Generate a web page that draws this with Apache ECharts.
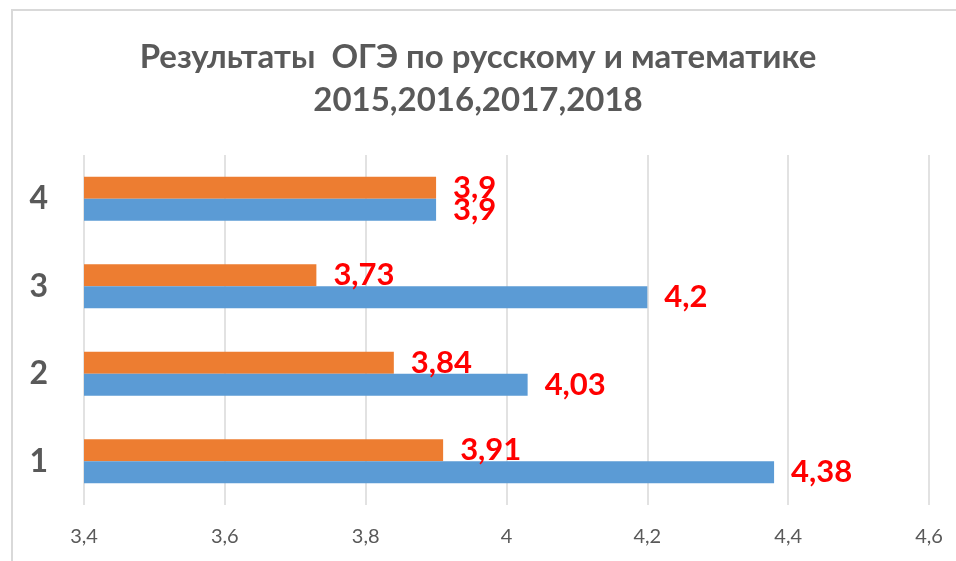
<!DOCTYPE html>
<html>
<head>
<meta charset="utf-8">
<script src="https://cdn.jsdelivr.net/npm/echarts@6/dist/echarts.min.js"></script>
<style>
html,body{margin:0;padding:0;background:#fff;}
#chart{width:956px;height:561px;}
</style>
</head>
<body>
<div id="chart"></div>
<script>
const categories = ['1', '2', '3', '4'];
const blueValues = [4.38, 4.03, 4.2, 3.9];
const orangeValues = [3.91, 3.84, 3.73, 3.9];
const xTicks = [3.4, 3.6, 3.8, 4.0, 4.2, 4.4, 4.6];
const titleLines = ['Результаты  ОГЭ по русскому и математике', '2015,2016,2017,2018'];

const fmt = v => String(+v.toFixed(2)).replace('.', ',');
const FONT = 'Lato, "Open Sans", sans-serif';

const chart = echarts.init(document.getElementById('chart'), null, {renderer: 'canvas'});
const labelStyle = {
  show: true,
  position: 'right',
  distance: 17,
  color: '#FF0000',
  fontWeight: 'bold',
  fontSize: 31,
  fontFamily: FONT,
  formatter: p => fmt(p.value)
};
chart.setOption({
  animation: false,
  backgroundColor: '#fff',
  graphic: [
    {type: 'polyline', shape: {points: [[12, 561], [12, 10], [956, 10]]},
     style: {stroke: '#d9d9d9', lineWidth: 2, fill: null}, silent: true}
  ],
  title: {
    text: titleLines.join('\n'),
    left: 'center',
    top: 31,
    textStyle: {
      fontFamily: FONT,
      fontWeight: 'bold',
      fontSize: 33,
      lineHeight: 43,
      color: '#595959'
    }
  },
  grid: {left: 84, right: 27, top: 155, bottom: 56, containLabel: false},
  xAxis: {
    type: 'value',
    min: 3.4,
    max: 4.6,
    interval: 0.2,
    axisLine: {show: false},
    axisTick: {show: false},
    splitLine: {show: true, lineStyle: {color: '#d9d9d9', width: 1.5}},
    axisLabel: {
      color: '#595959',
      fontSize: 20,
      fontFamily: FONT,
      margin: 22,
      customValues: xTicks,
      formatter: v => fmt(v)
    }
  },
  yAxis: {
    type: 'category',
    data: categories,
    axisLine: {show: false},
    axisTick: {show: false},
    axisLabel: {
      color: '#595959',
      fontSize: 32,
      fontWeight: 'bold',
      fontFamily: FONT,
      margin: 36
    }
  },
  series: [
    {
      name: 'orange',
      type: 'bar',
      data: orangeValues,
      barWidth: 22,
      barGap: '0%',
      itemStyle: {color: '#ED7D31'},
      label: labelStyle
    },
    {
      name: 'blue',
      type: 'bar',
      data: blueValues,
      barWidth: 22,
      barGap: '0%',
      itemStyle: {color: '#5B9BD5'},
      label: labelStyle
    }
  ]
});
</script>
</body>
</html>
